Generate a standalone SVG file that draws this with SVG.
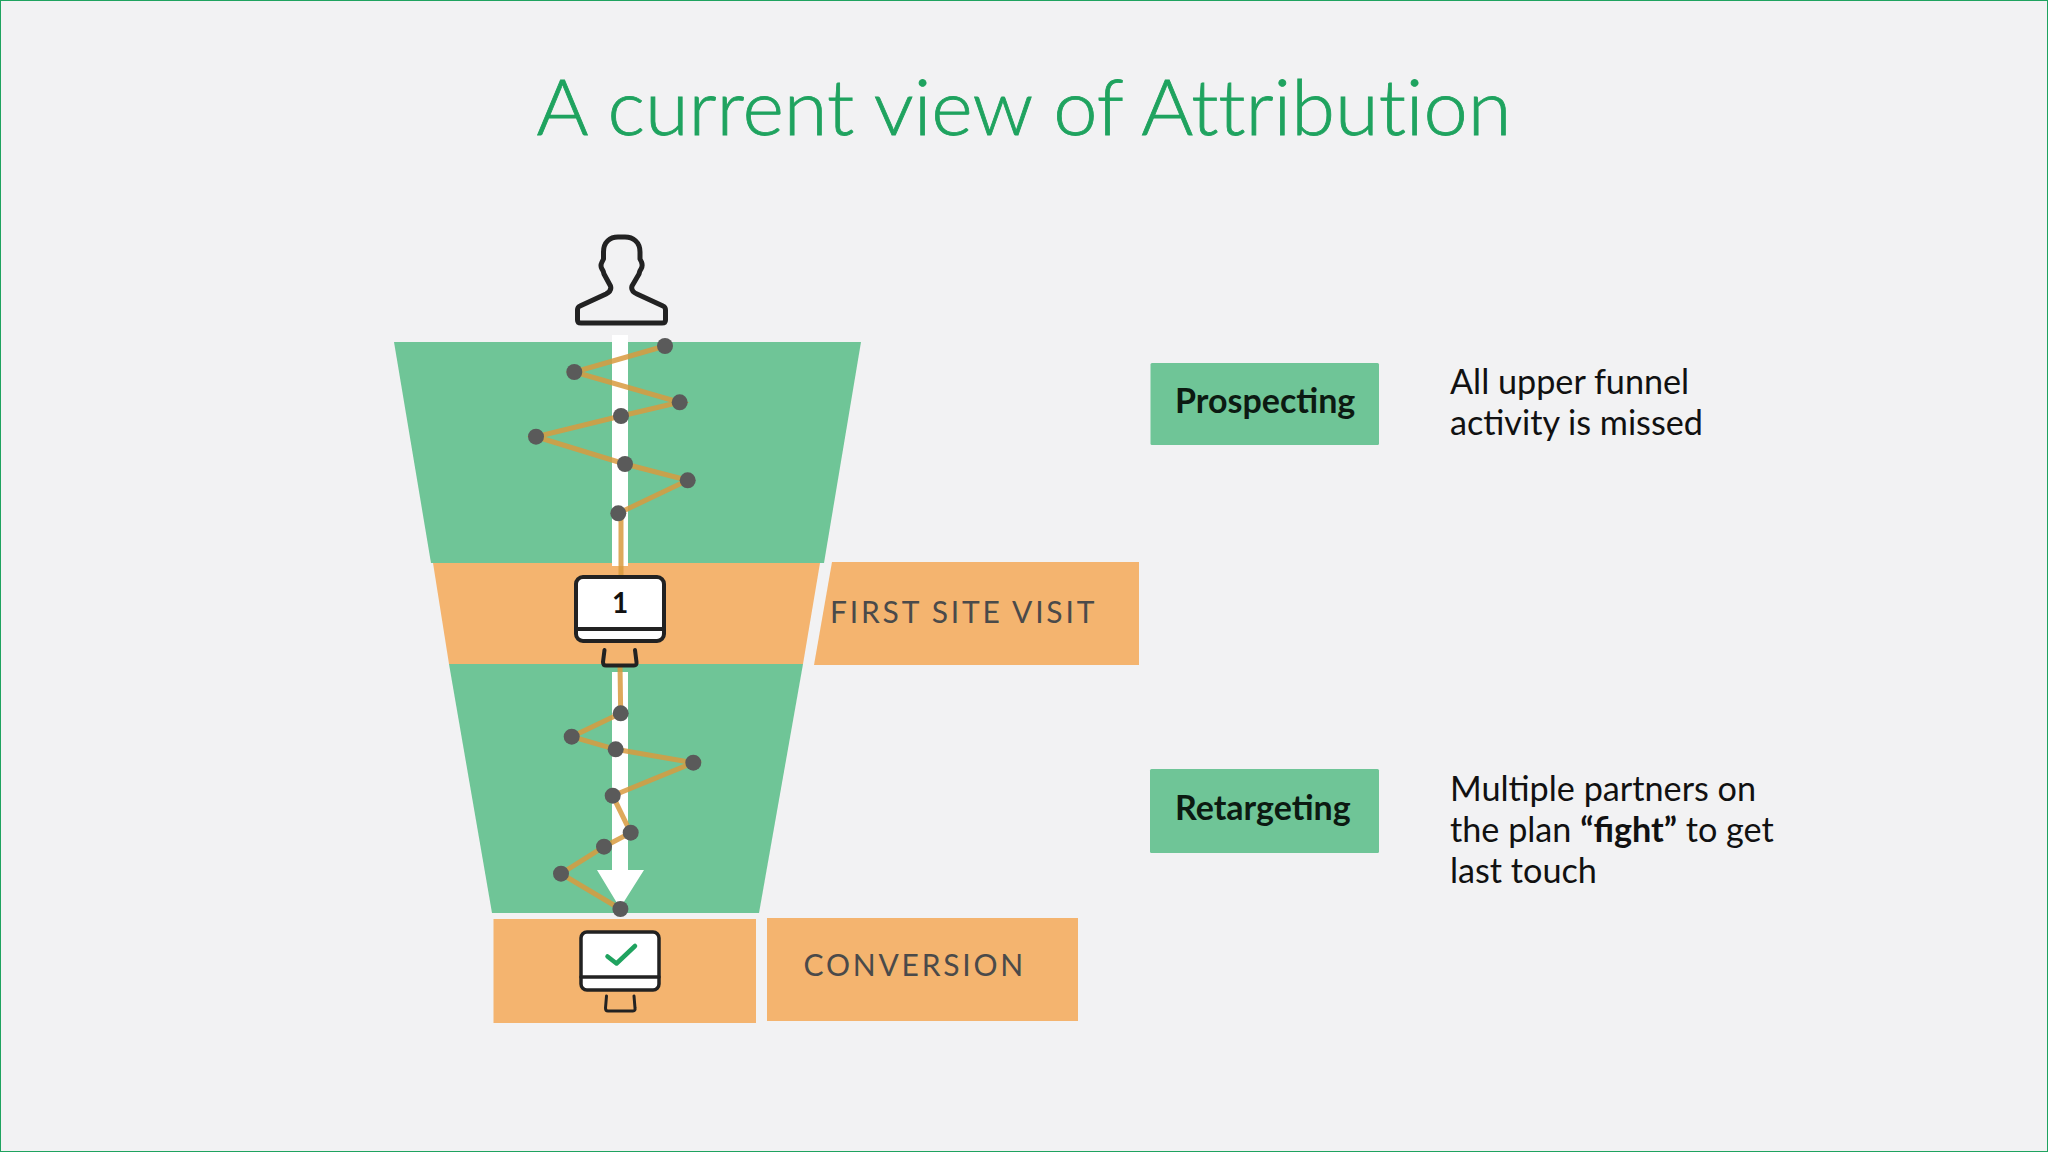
<svg xmlns="http://www.w3.org/2000/svg" width="2048" height="1152" viewBox="0 0 2048 1152">
<style>
.g{fill:#6fc597}
.o{fill:#f4b46f}
.t{font-family:"Lato","Carlito","Liberation Sans",sans-serif}
.body{font-size:34.200px;fill:#111}
.tag{font-size:34px;font-weight:700;fill:#0c1a12}
.cap{font-size:30px;fill:#4a4a4a;letter-spacing:2.800px}
.lnk{fill:none;stroke:#d89a3e;stroke-opacity:.85;stroke-width:5}
.dot{fill:#5a5a5a}
.ink{fill:none;stroke:#222;stroke-width:4;stroke-linejoin:round;stroke-linecap:round}
.scr{fill:#fff;stroke:#222;stroke-width:4}
</style>
<rect x="0.5" y="0.5" width="2047" height="1151" fill="#f2f2f3" stroke="#1fa35f" stroke-width="1"/>
<text class="t" x="536.500" y="135" font-size="76" font-weight="300" fill="#1fa35f" stroke="#1fa35f" stroke-width="0.8" style="font-variant-ligatures:none" textLength="975" lengthAdjust="spacingAndGlyphs">A current view of Attribution</text>

<g id="funnel-prospecting"><polygon class="g" points="394,342 861,342 824,563 431,563"/></g>
<g id="funnel-first-visit"><polygon class="o" points="433,563 820,563 803,664 449,664"/></g>
<g id="funnel-retargeting"><polygon class="g" points="449,664 803,664 759,913 492,913"/></g>
<g id="funnel-conversion"><rect class="o" x="493.500" y="919" width="262.500" height="104"/></g>

<g id="journey-arrow" fill="#fff">
<rect x="612" y="335" width="16" height="231"/>
<polygon points="612,672 628,672 628,870 644,870 620,908 597,870 612,870"/>
</g>

<g id="connectors">
<polyline class="lnk" points="665,346 574.300,372 679.700,402.300 621,416 536,436.700 625,464 687.700,480.300 618.300,513.300 621,514 621,576"/>
<polyline class="lnk" points="620,665 620.700,713.300 571.700,736.700 615.700,749.300 693.300,762.700 612.700,795.700 630.700,832.700 604,846.700 561,873.700 620.400,909"/>
</g>

<g id="dots-upper">
<circle class="dot" cx="665" cy="346" r="8"/><circle class="dot" cx="574.300" cy="372" r="8"/><circle class="dot" cx="679.700" cy="402.300" r="8"/><circle class="dot" cx="621" cy="416" r="8"/><circle class="dot" cx="536" cy="436.700" r="8"/><circle class="dot" cx="625" cy="464" r="8"/><circle class="dot" cx="687.700" cy="480.300" r="8"/><circle class="dot" cx="618.300" cy="513.300" r="8"/>
</g>
<g id="dots-lower">
<circle class="dot" cx="620.700" cy="713.300" r="8"/><circle class="dot" cx="571.700" cy="736.700" r="8"/><circle class="dot" cx="615.700" cy="749.300" r="8"/><circle class="dot" cx="693.300" cy="762.700" r="8"/><circle class="dot" cx="612.700" cy="795.700" r="8"/><circle class="dot" cx="630.700" cy="832.700" r="8"/><circle class="dot" cx="604" cy="846.700" r="8"/><circle class="dot" cx="561" cy="873.700" r="8"/><circle class="dot" cx="620.400" cy="909" r="8"/>
</g>

<g id="person">
<path class="ink" style="stroke-width:5" d="M581,323 Q577.500,323 577.500,320 L577.500,310 Q577.500,307 580,306 L606,294 Q612,291 610.500,286 L604,274 Q603.500,271 602,269 Q600,266 602,262 L603.500,259 L603.500,252 C603.500,242 610,237 618,237 L625,237 C633,237 640,242 640,252 L640,259 L641.500,262 Q643,266 641,269 Q639.500,271 639,274 L632,286 Q630.500,291 637,294 L663,306 Q665.500,307 665.500,310 L665.500,320 Q665.500,323 662,323 Z"/>
</g>

<g id="monitor-first">
<rect class="scr" x="576" y="577" width="88" height="64" rx="7"/>
<line class="ink" x1="576" y1="629" x2="664" y2="629"/>
<path class="ink" d="M604.500,650 L603,662 Q603,665.500 606,665.500 L634,665.500 Q637,665.500 636.500,662 L635,650"/>
<text class="t" x="620" y="613" font-size="28" font-weight="700" fill="#111" text-anchor="middle">1</text>
</g>

<g id="monitor-conversion">
<rect class="scr" x="581" y="932" width="78" height="58" rx="6" style="stroke-width:3.500"/>
<line class="ink" x1="581" y1="977" x2="659" y2="977" style="stroke-width:3.500"/>
<path class="ink" d="M606.500,996 L605.500,1008 Q605.500,1011 608,1011 L633,1011 Q635.500,1011 635,1008 L634,996" style="stroke-width:3"/>
<polyline points="607.500,956.500 616.500,963.500 635,946" fill="none" stroke="#1fa35f" stroke-width="4.500" stroke-linecap="round" stroke-linejoin="round"/>
</g>

<g id="label-first-visit">
<polygon class="o" points="832,562 1139,562 1139,665 814,665"/>
<text class="t cap" x="830" y="623">FIRST SITE VISIT</text>
</g>
<g id="label-conversion">
<rect class="o" x="767" y="918" width="311" height="103"/>
<text class="t cap" x="803.500" y="976">CONVERSION</text>
</g>

<g id="tag-prospecting">
<rect class="g" x="1150.500" y="363" width="228.500" height="82" rx="1.500"/>
<text class="t tag" x="1175" y="413">Prospecting</text>
</g>
<g id="tag-retargeting">
<rect class="g" x="1150" y="769" width="229" height="84" rx="1.500"/>
<text class="t tag" x="1175" y="820">Retargeting</text>
</g>

<g id="note-prospecting">
<text class="t body" x="1450" y="394">All upper funnel</text>
<text class="t body" x="1450" y="435">activity is missed</text>
</g>
<g id="note-retargeting">
<text class="t body" x="1450" y="801">Multiple partners on</text>
<text class="t body" x="1450" y="842">the plan <tspan font-weight="700">“fight”</tspan> to get</text>
<text class="t body" x="1450" y="883">last touch</text>
</g>
</svg>
